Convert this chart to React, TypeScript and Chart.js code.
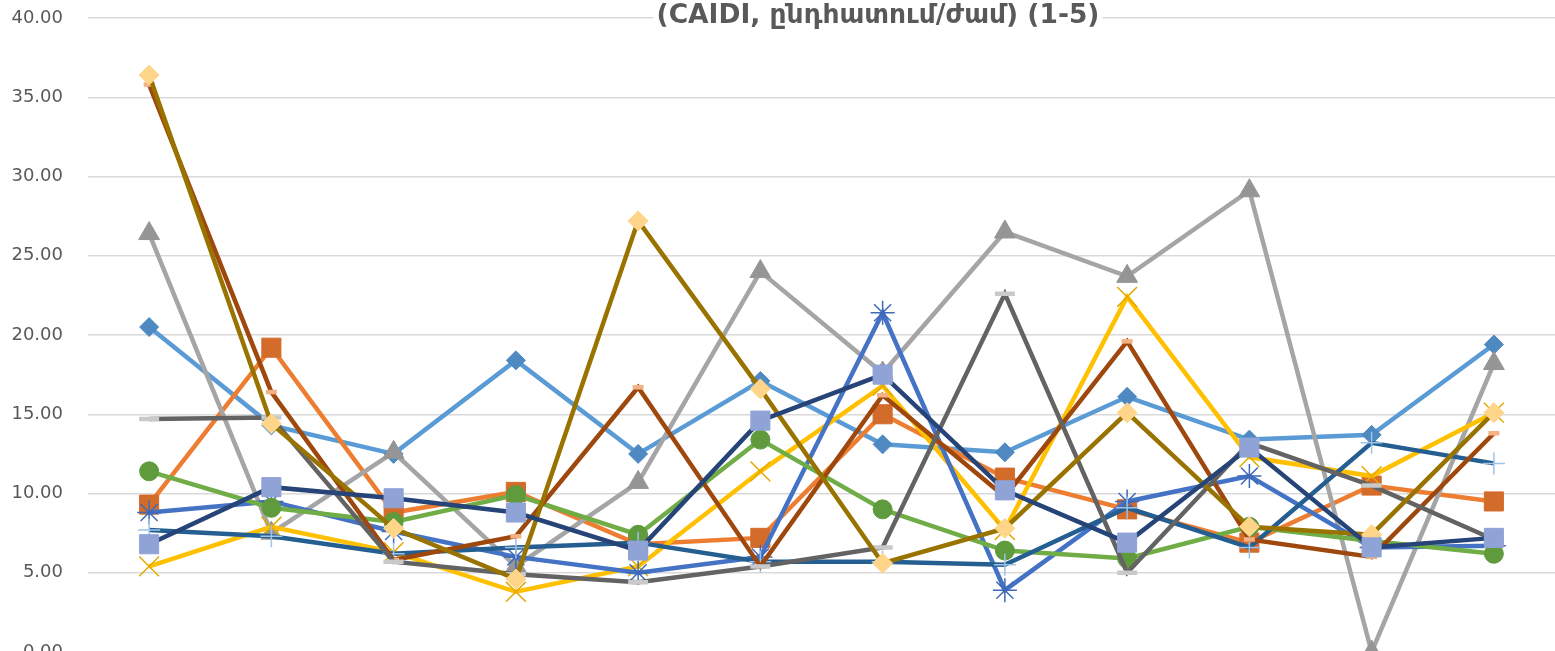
import React, { useEffect, useRef } from "react";
import { Chart, registerables } from "chart.js";

Chart.register(...registerables);

const titleText = "(CAIDI, ընդհատում/ժամ) (1-5)";

const categories = ["1", "2", "3", "4", "5", "6", "7", "8", "9", "10", "11", "12"];

const yTicks = [0, 5, 10, 15, 20, 25, 30, 35, 40];

const series1 = [20.5, 14.3, 12.5, 18.4, 12.5, 17.1, 13.1, 12.6, 16.1, 13.4, 13.7, 19.4];
const series2 = [9.3, 19.2, 8.8, 10.1, 6.8, 7.2, 15.0, 11.0, 9.0, 6.9, 10.5, 9.5];
const series3 = [26.4, 7.5, 12.6, 5.4, 10.7, 24.0, 17.6, 26.5, 23.7, 29.1, 0, 18.2];
const series4 = [5.4, 7.9, 6.3, 3.8, 5.4, 11.4, 16.8, 7.7, 22.4, 12.3, 11.1, 15.1];
const series5 = [8.8, 9.5, 7.6, 6.0, 5.0, 6.0, 21.4, 3.9, 9.5, 11.1, 6.6, 6.7];
const series6 = [11.4, 9.1, 8.2, 9.9, 7.4, 13.4, 9.0, 6.4, 5.9, 7.9, 7.0, 6.2];
const series7 = [7.7, 7.3, 6.2, 6.6, 6.9, 5.7, 5.7, 5.5, 9.1, 6.6, 13.2, 11.9];
const series8 = [35.8, 16.4, 5.8, 7.3, 16.7, 5.4, 16.2, 9.8, 19.6, 7.1, 6.0, 13.8];
const series9 = [14.7, 14.8, 5.7, 4.9, 4.4, 5.4, 6.6, 22.6, 5.0, 13.2, 10.5, 7.1];
const series10 = [36.4, 14.4, 7.8, 4.6, 27.2, 16.6, 5.6, 7.8, 15.1, 7.9, 7.4, 15.1];
const series11 = [6.8, 10.4, 9.7, 8.8, 6.4, 14.6, 17.5, 10.2, 6.9, 12.9, 6.6, 7.2];

const seriesValues = [
  series1, series2, series3, series4, series5, series6,
  series7, series8, series9, series10, series11,
];

const seriesNames = [
  "Series 1", "Series 2", "Series 3", "Series 4", "Series 5", "Series 6",
  "Series 7", "Series 8", "Series 9", "Series 10", "Series 11",
];

type Style = {
  line: string;
  pointStyle: string;
  radius: number;
  fill: string;
  stroke: string;
  strokeWidth: number;
};

const styles: Style[] = [
  { line: "#5B9BD5", pointStyle: "rectRot", radius: 9.5, fill: "#4E89C1", stroke: "#4E89C1", strokeWidth: 1 },
  { line: "#ED7D31", pointStyle: "rect", radius: 13.5, fill: "#D36B2A", stroke: "#D36B2A", strokeWidth: 1 },
  { line: "#A5A5A5", pointStyle: "triangle", radius: 12, fill: "#959595", stroke: "#959595", strokeWidth: 1 },
  { line: "#FFC000", pointStyle: "crossRot", radius: 14, fill: "#E3AA00", stroke: "#E3AA00", strokeWidth: 1.5 },
  { line: "#4472C4", pointStyle: "star", radius: 12, fill: "#3F69B8", stroke: "#3F69B8", strokeWidth: 1.5 },
  { line: "#70AD47", pointStyle: "circle", radius: 9.5, fill: "#5F9A3D", stroke: "#5F9A3D", strokeWidth: 1 },
  { line: "#255E91", pointStyle: "cross", radius: 11, fill: "#9DC3E6", stroke: "#9DC3E6", strokeWidth: 1.5 },
  { line: "#9E480E", pointStyle: "line", radius: 5.5, fill: "#F4B183", stroke: "#F4B183", strokeWidth: 4.5 },
  { line: "#636363", pointStyle: "line", radius: 10, fill: "#C9C9C9", stroke: "#C9C9C9", strokeWidth: 4.5 },
  { line: "#997300", pointStyle: "rectRot", radius: 10, fill: "#FFD58A", stroke: "#FFD58A", strokeWidth: 1 },
  { line: "#264478", pointStyle: "rect", radius: 13.5, fill: "#8FA3D6", stroke: "#8FA3D6", strokeWidth: 1 },
];

const titlePlugin = {
  id: "partialTitle",
  afterDraw(chart: any) {
    const ctx = chart.ctx as CanvasRenderingContext2D;
    ctx.save();
    ctx.font = 'bold 26.5px "DejaVu Sans", sans-serif';
    const w = ctx.measureText(titleText).width;
    const cx = 878;
    const baseline = chart.chartArea.top + 5;
    ctx.fillStyle = "#FFFFFF";
    ctx.fillRect(cx - w / 2 - 3, baseline - 30, w + 6, 40);
    ctx.fillStyle = "#595959";
    ctx.textAlign = "center";
    ctx.textBaseline = "alphabetic";
    ctx.fillText(titleText, cx, baseline);
    ctx.restore();
  },
};

export default function App() {
  const canvasRef = useRef<HTMLCanvasElement | null>(null);

  useEffect(() => {
    if (!canvasRef.current) return;
    const datasets = seriesValues.map((values, i) => {
      const s = styles[i];
      return {
        label: seriesNames[i],
        data: values,
        borderColor: s.line,
        backgroundColor: s.line,
        borderWidth: 4.5,
        tension: 0,
        fill: false,
        pointStyle: s.pointStyle as any,
        pointRadius: s.radius,
        pointBackgroundColor: s.fill,
        pointBorderColor: s.stroke,
        pointBorderWidth: s.strokeWidth,
        order: seriesValues.length - i,
      };
    });

    const chart = new Chart(canvasRef.current, {
      type: "line",
      data: { labels: categories, datasets },
      options: {
        animation: false,
        responsive: true,
        maintainAspectRatio: false,
        layout: { autoPadding: false, padding: { left: 11, right: 0, top: 18, bottom: 48 } },
        plugins: {
          legend: { display: false },
          title: { display: false },
          tooltip: { enabled: false },
        },
        scales: {
          x: {
            type: "category",
            offset: true,
            display: false,
          },
          y: {
            min: yTicks[0],
            max: yTicks[yTicks.length - 1],
            afterBuildTicks: (scale: any) => {
              scale.ticks = yTicks.map((v) => ({ value: v }));
            },
            afterFit: (scale: any) => {
              scale.width = 77;
              scale.paddingTop = 11;
              scale.paddingBottom = 11;
            },
            ticks: {
              callback: (v: any) => Number(v).toFixed(2),
              color: "#595959",
              font: { family: '"DejaVu Sans", sans-serif', size: 18 },
              padding: 25,
            },
            grid: { color: "#D9D9D9", lineWidth: 1.5, drawTicks: false },
            border: { display: false },
          },
        },
      },
      plugins: [titlePlugin],
    });
    return () => chart.destroy();
  }, []);

  return (
    <div
      style={{
        position: "fixed",
        left: 0,
        top: 0,
        width: 1555,
        height: 651,
        overflow: "hidden",
        background: "#FFFFFF",
      }}
    >
      <div style={{ position: "absolute", left: 0, top: 0, width: 1555, height: 700 }}>
        <canvas ref={canvasRef} />
      </div>
    </div>
  );
}
